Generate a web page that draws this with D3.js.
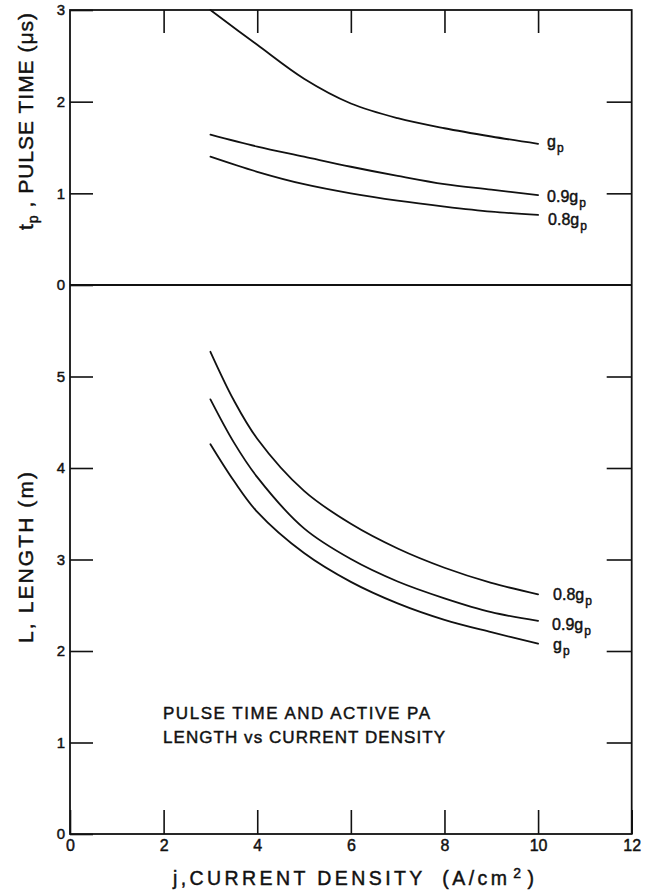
<!DOCTYPE html>
<html>
<head>
<meta charset="utf-8">
<script src="https://cdn.jsdelivr.net/npm/d3@7"></script>
<style>
  html, body { margin: 0; padding: 0; background: #fff; }
  svg { display: block; }
  text { font-family: "Liberation Sans", Arial, sans-serif; fill: #111; stroke: #111; stroke-width: 0.45px; }
</style>
</head>
<body>
<svg id="chart" width="648" height="894"></svg>
<script>
// Current density j (A/cm^2) at which each panel's curves are sampled
const jPulse = [3, 4, 5, 6, 7, 8, 9, 10];
const jLength = [3, 3.5, 4, 5, 6, 7, 8, 9, 10];

// Upper panel: pulse time t_p (microseconds)
const pulseGp  = [3.00, 2.62, 2.25, 1.98, 1.82, 1.71, 1.62, 1.54];
const pulse09  = [1.64, 1.51, 1.40, 1.29, 1.19, 1.10, 1.04, 0.98];
const pulse08  = [1.40, 1.235, 1.10, 1.00, 0.92, 0.855, 0.80, 0.765];

// Lower panel: active PA length L (m)
const lengthGp = [4.26, 3.86, 3.52, 3.07, 2.755, 2.52, 2.34, 2.205, 2.08];
const length09 = [4.75, 4.28, 3.90, 3.34, 3.005, 2.76, 2.576, 2.424, 2.33];
const length08 = [5.27, 4.74, 4.32, 3.75, 3.39, 3.12, 2.91, 2.745, 2.62];

// Curve label prefixes (each followed by g with subscript p)
const seriesPrefix = ["", "0.9", "0.8"];

// Tick values
const xTicks = [0, 2, 4, 6, 8, 10, 12];
const xTopTicks = [2, 4, 6, 8, 10];
const pulseTicks = [0, 1, 2, 3];
const pulseRightTicks = [1, 2];
const lengthTicks = [0, 1, 2, 3, 4, 5];
const lengthRightTicks = [1, 2, 3, 4, 5];

const FONT = '"Liberation Sans", Arial, sans-serif';
const INK = "#111";

const svg = d3.select("#chart");

// Frame geometry
const X0 = 70, X1 = 631.7, YT = 10, YM = 285, YB = 834;

const x = d3.scaleLinear().domain([0, 12]).range([X0, X1]);
const yTop = d3.scaleLinear().domain([0, 3]).range([YM, YT]);
const yBot = d3.scaleLinear().domain([0, 6]).range([YB, YM]);

function styleAxis(g, size) {
  g.select(".domain").remove();
  g.selectAll(".tick line").attr("stroke", INK).attr("stroke-width", 1.6);
  g.selectAll(".tick text")
    .attr("font-family", FONT)
    .attr("font-size", size)
    .attr("fill", INK);
}

// Frame and panel divider
svg.append("rect")
  .attr("x", X0).attr("y", YT)
  .attr("width", X1 - X0).attr("height", YB - YT)
  .attr("fill", "none").attr("stroke", INK).attr("stroke-width", 1.8);
svg.append("line")
  .attr("x1", X0).attr("x2", X1).attr("y1", YM).attr("y2", YM)
  .attr("stroke", INK).attr("stroke-width", 1.8);

// Left axes (inward ticks, labels outside)
svg.append("g").attr("transform", `translate(${X0},0)`)
  .call(d3.axisLeft(yTop).tickValues(pulseTicks).tickSize(-23).tickPadding(5).tickFormat(d3.format("d")))
  .call(styleAxis, 15);
svg.append("g").attr("transform", `translate(${X0},0)`)
  .call(d3.axisLeft(yBot).tickValues(lengthTicks).tickSize(-23).tickPadding(5).tickFormat(d3.format("d")))
  .call(styleAxis, 15);

// Right axes (ticks only)
svg.append("g").attr("transform", `translate(${X1},0)`)
  .call(d3.axisRight(yTop).tickValues(pulseRightTicks).tickSize(-25).tickFormat(""))
  .call(styleAxis, 14);
svg.append("g").attr("transform", `translate(${X1},0)`)
  .call(d3.axisRight(yBot).tickValues(lengthRightTicks).tickSize(-25).tickFormat(""))
  .call(styleAxis, 14);

// Bottom and top axes
svg.append("g").attr("transform", `translate(0,${YB})`)
  .call(d3.axisBottom(x).tickValues(xTicks).tickSize(-24).tickPadding(6).tickFormat(d3.format("d")))
  .call(styleAxis, 16);
svg.append("g").attr("transform", `translate(0,${YT})`)
  .call(d3.axisTop(x).tickValues(xTopTicks).tickSize(-23).tickFormat(""))
  .call(styleAxis, 14);

// Curves
const pulseSeries = [pulseGp, pulse09, pulse08];
const lengthSeries = [lengthGp, length09, length08];

function drawCurves(jVals, seriesList, yScale) {
  const line = d3.line()
    .x(d => x(d[0]))
    .y(d => yScale(d[1]))
    .curve(d3.curveCatmullRom.alpha(0.5));
  seriesList.forEach(vals => {
    svg.append("path")
      .datum(jVals.map((j, i) => [j, vals[i]]))
      .attr("d", line)
      .attr("fill", "none")
      .attr("stroke", INK)
      .attr("stroke-width", 1.8)
      .attr("stroke-linecap", "round");
  });
}
drawCurves(jPulse, pulseSeries, yTop);
drawCurves(jLength, lengthSeries, yBot);

// Curve end labels
const pulseLabelOffset = [[9, 3], [9, 7], [10, 10]];
const lengthLabelOffset = [[15, 6], [14, 9], [15, 6]];

function drawLabels(jVals, seriesList, yScale, offsets) {
  seriesList.forEach((vals, i) => {
    const jEnd = jVals[jVals.length - 1];
    const vEnd = vals[vals.length - 1];
    const t = svg.append("text")
      .attr("x", x(jEnd) + offsets[i][0])
      .attr("y", yScale(vEnd) + offsets[i][1])
      .attr("font-size", 16)
      .attr("font-family", FONT);
    t.append("tspan").text(seriesPrefix[i] + "g");
    t.append("tspan").attr("font-size", 12).attr("dy", 5).attr("dx", 1).text("p");
  });
}
drawLabels(jPulse, pulseSeries, yTop, pulseLabelOffset);
drawLabels(jLength, lengthSeries, yBot, lengthLabelOffset);

// Spread a text element's letters so it spans the given width
function fitWidth(sel, target) {
  const node = sel.node();
  const n = node.getNumberOfChars();
  const w = node.getComputedTextLength();
  sel.attr("letter-spacing", ((target - w) / Math.max(1, n - 1)).toFixed(2));
}

// Axis titles
const xTitle = svg.append("text")
  .attr("x", 173).attr("y", 885)
  .attr("font-size", 19.5).attr("font-family", FONT);
xTitle.append("tspan").text("j,CURRENT DENSITY ");
xTitle.append("tspan").attr("dx", 8).text("(A/cm");
xTitle.append("tspan").attr("font-size", 14).attr("dy", -7).attr("dx", 3).text("2");
xTitle.append("tspan").attr("dy", 7).attr("dx", 3).text(")");
fitWidth(xTitle, 347);

const yTopTitle = svg.append("text")
  .attr("transform", "translate(33,230) rotate(-90)")
  .attr("font-size", 21).attr("font-family", FONT);
yTopTitle.append("tspan").text("t");
yTopTitle.append("tspan").attr("font-size", 14).attr("dy", 5).text("p");
yTopTitle.append("tspan").attr("dy", -5).text(" , PULSE TIME (\u03BCs)");
fitWidth(yTopTitle, 217);

const yBotTitle = svg.append("text")
  .attr("transform", "translate(33,643) rotate(-90)")
  .attr("font-size", 21).attr("font-family", FONT)
  .text("L, LENGTH (m)");
fitWidth(yBotTitle, 171);

// Caption inside the lower panel
const cap1 = svg.append("text")
  .attr("x", 163).attr("y", 719)
  .attr("font-size", 17).attr("font-family", FONT)
  .text("PULSE TIME AND ACTIVE PA");
fitWidth(cap1, 267);
const cap2 = svg.append("text")
  .attr("x", 163).attr("y", 742.5)
  .attr("font-size", 17).attr("font-family", FONT)
  .text("LENGTH vs CURRENT DENSITY");
fitWidth(cap2, 282);
</script>
</body>
</html>
